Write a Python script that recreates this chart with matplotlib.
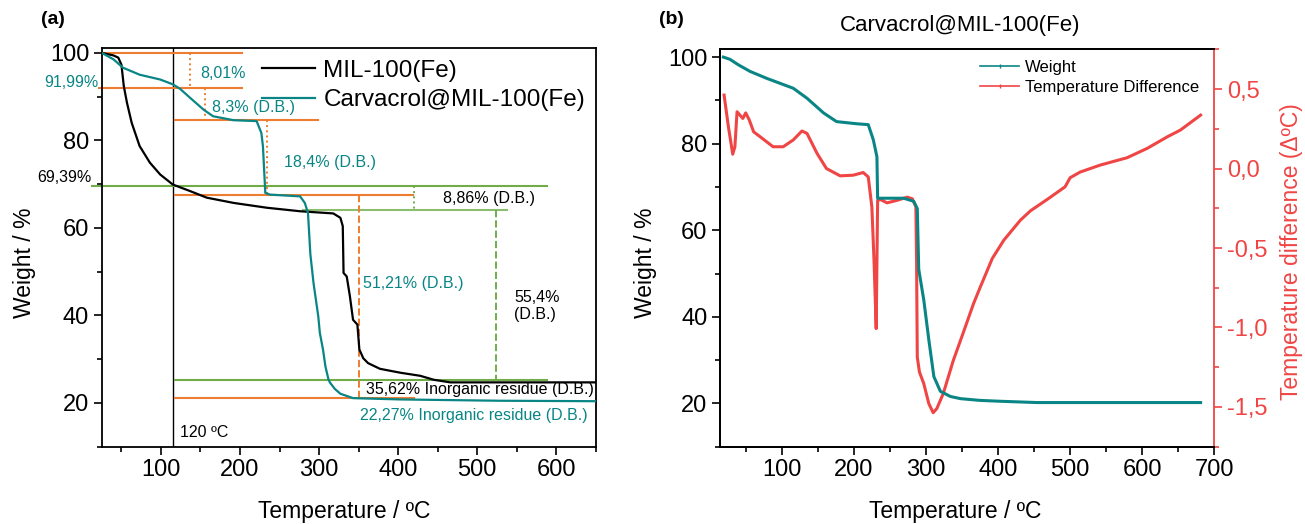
import matplotlib
matplotlib.use("Agg")
import matplotlib.pyplot as plt
from matplotlib.lines import Line2D
from matplotlib.ticker import MultipleLocator, FuncFormatter

plt.rcParams['font.family'] = ['Liberation Sans', 'DejaVu Sans']
plt.rcParams['axes.linewidth'] = 1.3

# ---------------- data: panel (a) ----------------
mil_T = [25, 40, 46, 50, 53, 57, 63, 73, 86, 99, 115, 137, 158, 192, 234, 276, 318, 327,
         330, 331, 335, 339, 343, 348.5, 351, 356, 362, 377, 403, 428, 445, 466, 650]
mil_W = [100, 99.4, 98.9, 97.3, 92.4, 88.6, 84, 78.7, 74.9, 72.2, 69.9, 68.4, 66.9, 65.7,
         64.6, 63.8, 63.3, 62.3, 60.4, 49.7, 48.9, 44.4, 39, 37.9, 32.2, 30.2, 29.1, 27.8,
         26.9, 26.2, 25.3, 24.7, 24.7]

carv_T = [25, 40, 52, 73, 99, 115, 124, 137, 154, 166, 192, 221, 227, 229, 232, 238, 276,
          282, 286, 289, 293, 299, 301, 305, 308, 312, 314, 320, 327, 343, 403, 529, 650]
carv_W = [100, 98.5, 96.6, 95, 93.9, 92.8, 91.8, 89.7, 87, 85.5, 84.6, 84.4, 81.7, 78.7,
          68, 67.6, 67.2, 65.7, 63.4, 54, 47.4, 39.8, 36, 32.2, 28.4, 25.3, 24.6, 23.2,
          22.1, 21.1, 20.8, 20.5, 20.4]

# reference levels (weight %) and their horizontal extents (temperature)
orange_levels = [100, 91.99, 84.7, 67.6, 21.2]
orange_starts = [25, 22, 118, 118, 118]
orange_ends = [202, 202, 299, 419, 420]
green_levels = [69.5, 64.0, 25.2]
green_starts = [13, 280, 118]
green_ends = [588, 538, 588]
dry_basis_T = 115

# vertical loss markers: (temperature, from, to)
loss_T = [136.7, 155.7, 234.5, 419.5, 351, 523.7]
loss_top = [100, 91.99, 84.7, 69.5, 67.6, 64.0]
loss_bot = [91.99, 84.7, 67.6, 64.0, 21.2, 25.2]
loss_color = ['o', 'o', 'o', 'g', 'o', 'g']
loss_style = [':', ':', ':', ':', '--', '--']

# ---------------- data: panel (b) ----------------
b_T = [19, 28, 40, 56, 79, 116, 135, 158, 176, 204, 220, 227, 232, 233, 269, 283, 288,
       290, 297, 304, 311, 320, 334, 348, 375, 403, 454, 681]
b_W = [100, 99.5, 98.2, 96.7, 95.1, 92.8, 90.5, 87.1, 85.1, 84.6, 84.4, 80.9, 77, 67.4,
       67.4, 66.7, 65, 51, 43.9, 34.7, 26.2, 22.8, 21.6, 21.1, 20.7, 20.5, 20.2, 20.2]

dt_T = [20, 26, 32, 35, 38, 42, 46, 50, 55, 61, 70, 88, 102, 116, 128, 135, 149, 162, 181,
        199, 213, 220, 225, 228, 231, 233, 237, 246, 260, 274, 281, 286, 287, 288, 291, 297,
        304, 310, 315, 324, 338, 352, 366, 375, 392, 408, 431, 445, 468, 493, 500, 514, 542,
        579, 607, 635, 653, 681]
dt_V = [0.462, 0.263, 0.09, 0.137, 0.357, 0.336, 0.315, 0.35, 0.305, 0.231, 0.2, 0.137,
        0.137, 0.18, 0.236, 0.221, 0.095, 0.0, -0.046, -0.042, -0.025, -0.053, -0.242,
        -0.58, -1.007, -0.2, -0.195, -0.216, -0.2, -0.18, -0.19, -0.24, -0.58, -1.186,
        -1.28, -1.353, -1.479, -1.536, -1.511, -1.416, -1.207, -1.03, -0.85, -0.75,
        -0.566, -0.451, -0.325, -0.266, -0.195, -0.115, -0.058, -0.022, 0.022, 0.068,
        0.127, 0.2, 0.242, 0.336]

TEAL = '#0A8585'
ORANGE = '#EE7D31'
GREEN = '#70AD47'
RED = '#F04545'
ANN = 11.5
TICK = 17
LAB = 16.5

fig = plt.figure(figsize=(13.05, 5.24), dpi=100)
axa = fig.add_axes([0.0779, 0.1475, 0.3786, 0.7609])
axb = fig.add_axes([0.5517, 0.1475, 0.3788, 0.7584])

# ---------------- panel (a) ----------------
for lvl, s, e in zip(orange_levels, orange_starts, orange_ends):
    axa.plot([s, e], [lvl, lvl], color=ORANGE, lw=1.5, clip_on=False, zorder=2)
for i, (lvl, s, e) in enumerate(zip(green_levels, green_starts, green_ends)):
    axa.plot([s, e], [lvl, lvl], color=GREEN, lw=1.5, clip_on=False, zorder=2,
             alpha=0.8 if i == 1 else 1)
for t, a, b, c, ls in zip(loss_T, loss_top, loss_bot, loss_color, loss_style):
    axa.plot([t, t], [a, b], color=ORANGE if c == 'o' else GREEN, lw=1.4, ls=ls, zorder=2)
axa.axvline(dry_basis_T, color='black', lw=1.0, zorder=1)

l1, = axa.plot(mil_T, mil_W, color='black', lw=1.6, zorder=3, label='MIL-100(Fe)')
l2, = axa.plot(carv_T, carv_W, color=TEAL, lw=1.6, zorder=3, label='Carvacrol@MIL-100(Fe)')

axa.set_xlim(25, 650)
axa.set_ylim(10, 101.1)
axa.xaxis.set_major_locator(MultipleLocator(100))
axa.xaxis.set_minor_locator(MultipleLocator(50))
axa.yaxis.set_major_locator(MultipleLocator(20))
axa.yaxis.set_minor_locator(MultipleLocator(10))
axa.set_xticks([100, 200, 300, 400, 500, 600])
axa.tick_params(which='major', direction='out', length=6, width=1.2, labelsize=TICK, pad=3)
axa.tick_params(which='minor', direction='out', length=3.5, width=1.2)
axa.set_xlabel('Temperature / ºC', fontsize=LAB)
axa.set_ylabel('Weight / %', fontsize=LAB)
axa.xaxis.set_label_coords(0.49, -0.134)
axa.yaxis.set_label_coords(-0.133, 0.462)

axa.legend(handles=[l1, l2], loc='upper left', bbox_to_anchor=(0.3245, 0.970),
           frameon=False, fontsize=17.5, borderpad=0, borderaxespad=0,
           handlelength=2.2, handletextpad=0.33, labelspacing=0.3)

axa.text(21.5, 93.3, '91,99%', color=TEAL, fontsize=ANN, ha='right', va='center', clip_on=False)
axa.text(12.3, 71.6, '69,39%', color='black', fontsize=ANN, ha='right', va='center', clip_on=False)
axa.text(149.4, 95.3, '8,01%', color=TEAL, fontsize=ANN, ha='left', va='center')
axa.text(164, 87.4, '8,3% (D.B.)', color=TEAL, fontsize=ANN, ha='left', va='center')
axa.text(255.7, 75.0, '18,4% (D.B.)', color=TEAL, fontsize=ANN, ha='left', va='center')
axa.text(457, 66.6, '8,86% (D.B.)', color='black', fontsize=ANN, ha='left', va='center')
axa.text(356, 47.4, '51,21% (D.B.)', color=TEAL, fontsize=ANN, ha='left', va='center')
axa.text(547, 42.2, '55,4%\n(D.B.)', color='black', fontsize=ANN, ha='left', va='center',
         linespacing=1.2)
axa.text(359, 23.0, '35,62% Inorganic residue (D.B.)', color='black', fontsize=ANN,
         ha='left', va='center')
axa.text(352, 17.1, '22,27% Inorganic residue (D.B.)', color=TEAL, fontsize=ANN,
         ha='left', va='center')
axa.text(124, 13.3, '120 ºC', color='black', fontsize=ANN, ha='left', va='center')

# ---------------- panel (b) ----------------
axb.plot(b_T, b_W, color=TEAL, lw=2.2, zorder=3)
axr = axb.twinx()
axr.plot(dt_T, dt_V, color=RED, lw=2.2, zorder=3)
axb.set_zorder(axr.get_zorder() + 1)
axb.patch.set_visible(False)

axb.set_xlim(14.3, 700)
axb.set_ylim(10, 101.8)
axr.set_ylim(-1.75, 0.75)
axb.xaxis.set_major_locator(MultipleLocator(100))
axb.xaxis.set_minor_locator(MultipleLocator(50))
axb.set_xticks([100, 200, 300, 400, 500, 600, 700])
axb.yaxis.set_major_locator(MultipleLocator(20))
axb.yaxis.set_minor_locator(MultipleLocator(10))
axr.set_yticks([0.5, 0.0, -0.5, -1.0, -1.5])
axr.yaxis.set_minor_locator(MultipleLocator(0.25))
axr.yaxis.set_major_formatter(FuncFormatter(
    lambda v, p: ('%.1f' % v).replace('.', ',').replace('-0,0', '0,0')))
axb.tick_params(which='major', direction='out', length=6, width=1.2, labelsize=TICK, pad=3)
axb.tick_params(which='minor', direction='out', length=3.5, width=1.2)
axr.tick_params(axis='y', which='major', direction='out', length=6, width=1.2,
                labelsize=TICK, colors=RED, pad=3)
axr.tick_params(axis='y', which='minor', direction='out', length=3.5, width=1.2, colors=RED)
axr.spines['right'].set_color(RED)
axr.spines['right'].set_linewidth(1.3)
axb.spines['right'].set_visible(False)

axb.set_xlabel('Temperature / ºC', fontsize=LAB)
axb.set_ylabel('Weight / %', fontsize=LAB)
axb.xaxis.set_label_coords(0.476, -0.134)
axb.yaxis.set_label_coords(-0.128, 0.462)
axr.set_ylabel('Temperature difference (ΔºC)', fontsize=LAB, color=RED)
axr.yaxis.set_label_coords(1.133, 0.492)
axb.text(0.4856, 1.061, 'Carvacrol@MIL-100(Fe)', fontsize=16, ha='center', va='center',
         transform=axb.transAxes)

hb = [Line2D([0, 0.5, 1], [0, 0, 0], color=TEAL, lw=1.2, marker='|', ms=3, markevery=[1]),
      Line2D([0, 0.5, 1], [0, 0, 0], color=RED, lw=1.2, marker='|', ms=3, markevery=[1])]
axb.legend(hb, ['Weight', 'Temperature Difference'], loc='upper left',
           bbox_to_anchor=(0.527, 0.974), frameon=False, fontsize=12, borderpad=0,
           borderaxespad=0, handlelength=2.3, handletextpad=0.35, labelspacing=0.3)

fig.text(0.0406, 0.962, '(a)', fontsize=14, fontweight='bold', ha='center', va='center')
fig.text(0.5146, 0.962, '(b)', fontsize=14, fontweight='bold', ha='center', va='center')

fig.savefig('out.png', dpi=100)
